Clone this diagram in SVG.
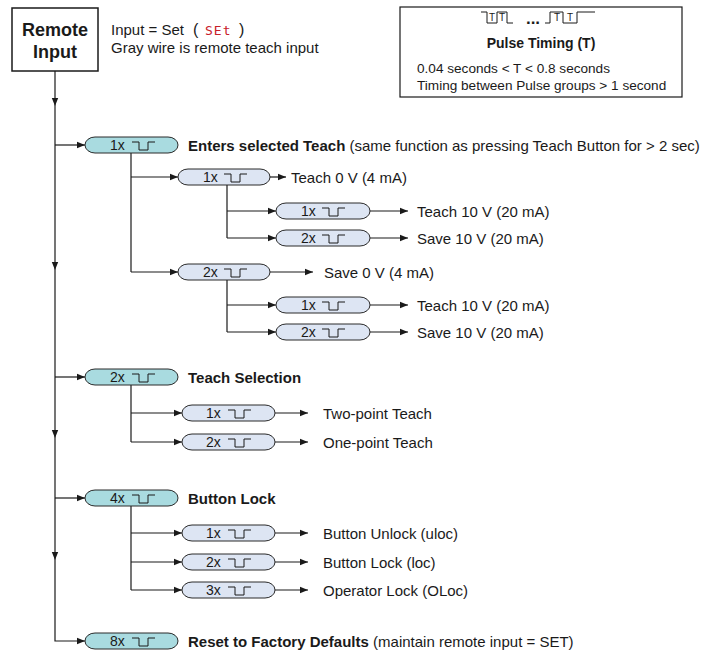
<svg xmlns="http://www.w3.org/2000/svg" width="706" height="655" viewBox="0 0 706 655">
<style>
  .t{font-family:"Liberation Sans",Arial,sans-serif;font-size:15px;fill:#1a1a1a}
  .b{font-weight:bold}
  .pl{font-family:"Liberation Sans",Arial,sans-serif;font-size:14px;fill:#1a1a1a}
  .m{fill:#a9dbe0;stroke:#2a2a2a;stroke-width:1}
  .s{fill:#dde5f3;stroke:#2a2a2a;stroke-width:1}
  .ln{fill:none;stroke:#1a1a1a;stroke-width:1.2}
  .ic{fill:none;stroke:#1a1a1a;stroke-width:1}
  .box{fill:#fff;stroke:#1a1a1a;stroke-width:1.5}
  .tt{font-family:"Liberation Sans",Arial,sans-serif;font-size:10px;fill:#1a1a1a}
</style>
<defs>
  <marker id="ah" viewBox="0 0 8 8" refX="8" refY="4" markerWidth="8" markerHeight="8" markerUnits="userSpaceOnUse" orient="auto">
    <path d="M0,0.8 L8,4 L0,7.2 Z" fill="#1a1a1a"/>
  </marker>
  <path id="pulse" d="M0,-4 h7 v8 h9 v-8 h7" class="ic"/>
</defs>

<g id="remote-input">
  <rect x="12" y="8" width="86" height="63" class="box"/>
  <text x="55" y="36" text-anchor="middle" class="t b" style="font-size:18px">Remote</text>
  <text x="55" y="58" text-anchor="middle" class="t b" style="font-size:18px">Input</text>
</g>

<g id="input-note">
  <text x="111" y="35" class="t">Input = Set</text>
  <text x="193" y="35" class="t" style="font-size:16px">(</text>
  <text x="205" y="35" style="font-family:'DejaVu Sans Mono',monospace;font-size:13px;fill:#c8202a;letter-spacing:1px">SEt</text>
  <text x="239" y="35" class="t" style="font-size:16px">)</text>
  <text x="111" y="53" class="t">Gray wire is remote teach input</text>
</g>

<g id="pulse-timing">
  <rect x="400" y="7" width="282" height="90" class="box" style="stroke-width:1.2"/>
  <path d="M481,12 h6 v11 h10 v-11 h10 v11 h6" class="ic"/>
  <text x="492" y="21" text-anchor="middle" class="tt">T</text>
  <text x="502" y="21" text-anchor="middle" class="tt">T</text>
  <text x="533" y="24" text-anchor="middle" class="t b" style="font-size:17px">...</text>
  <path d="M545,23 h5 v-11 h13 v11 h14 v-11 h18" class="ic"/>
  <text x="557" y="21" text-anchor="middle" class="tt">T</text>
  <text x="570" y="21" text-anchor="middle" class="tt">T</text>
  <text x="541" y="48" text-anchor="middle" class="t b" style="font-size:14px">Pulse Timing (T)</text>
  <text x="417" y="73" class="t" style="font-size:13.6px">0.04 seconds &lt; T &lt; 0.8 seconds</text>
  <text x="417" y="90" class="t" style="font-size:13.6px">Timing between Pulse groups &gt; 1 second</text>
</g>

<g id="connectors">
  <path d="M55,71 V106" class="ln" marker-end="url(#ah)"/>
  <path d="M55,106 V270" class="ln" marker-end="url(#ah)"/>
  <path d="M55,270 V438" class="ln" marker-end="url(#ah)"/>
  <path d="M55,438 V560" class="ln" marker-end="url(#ah)"/>
  <path d="M55,560 V641 H85" class="ln" marker-end="url(#ah)"/>
  <path d="M55,145 H85" class="ln" marker-end="url(#ah)"/>
  <path d="M55,377 H85" class="ln" marker-end="url(#ah)"/>
  <path d="M55,498 H85" class="ln" marker-end="url(#ah)"/>
  <path d="M131,153 V272" class="ln"/>
  <path d="M131,177 H178" class="ln" marker-end="url(#ah)"/>
  <path d="M131,272 H178" class="ln" marker-end="url(#ah)"/>
  <path d="M227,185 V238" class="ln"/>
  <path d="M227,211 H276" class="ln" marker-end="url(#ah)"/>
  <path d="M227,238 H276" class="ln" marker-end="url(#ah)"/>
  <path d="M227,280 V332" class="ln"/>
  <path d="M227,305 H276" class="ln" marker-end="url(#ah)"/>
  <path d="M227,332 H276" class="ln" marker-end="url(#ah)"/>
  <path d="M270,177 H286" class="ln" marker-end="url(#ah)"/>
  <path d="M270,272 H313" class="ln" marker-end="url(#ah)"/>
  <path d="M370,211 H408" class="ln" marker-end="url(#ah)"/>
  <path d="M370,238 H408" class="ln" marker-end="url(#ah)"/>
  <path d="M370,305 H408" class="ln" marker-end="url(#ah)"/>
  <path d="M370,332 H408" class="ln" marker-end="url(#ah)"/>
  <path d="M131,385 V442" class="ln"/>
  <path d="M131,413 H182" class="ln" marker-end="url(#ah)"/>
  <path d="M131,442 H182" class="ln" marker-end="url(#ah)"/>
  <path d="M275,413 H308" class="ln" marker-end="url(#ah)"/>
  <path d="M275,442 H308" class="ln" marker-end="url(#ah)"/>
  <path d="M131,506 V590" class="ln"/>
  <path d="M131,533 H182" class="ln" marker-end="url(#ah)"/>
  <path d="M131,562 H182" class="ln" marker-end="url(#ah)"/>
  <path d="M131,590 H182" class="ln" marker-end="url(#ah)"/>
  <path d="M275,533 H308" class="ln" marker-end="url(#ah)"/>
  <path d="M275,562 H308" class="ln" marker-end="url(#ah)"/>
  <path d="M275,590 H308" class="ln" marker-end="url(#ah)"/>
</g>

<g id="p-1x">
  <rect x="85" y="137" width="93" height="16" rx="10" ry="8" class="m"/>
  <text x="110" y="150" class="pl">1x</text>
  <use href="#pulse" x="132" y="146"/>
  <text x="188" y="151" class="t"><tspan class="b">Enters selected Teach</tspan> (same function as pressing Teach Button for &gt; 2 sec)</text>
</g>
<g id="p-2x">
  <rect x="85" y="369" width="93" height="16" rx="10" ry="8" class="m"/>
  <text x="110" y="382" class="pl">2x</text>
  <use href="#pulse" x="132" y="378"/>
  <text x="188" y="383" class="t b">Teach Selection</text>
</g>
<g id="p-4x">
  <rect x="85" y="490" width="93" height="16" rx="10" ry="8" class="m"/>
  <text x="110" y="503" class="pl">4x</text>
  <use href="#pulse" x="132" y="499"/>
  <text x="188" y="504" class="t b">Button Lock</text>
</g>
<g id="p-8x">
  <rect x="85" y="633" width="93" height="16" rx="10" ry="8" class="m"/>
  <text x="110" y="646" class="pl">8x</text>
  <use href="#pulse" x="132" y="642"/>
  <text x="188" y="647" class="t"><tspan class="b">Reset to Factory Defaults</tspan> (maintain remote input = SET)</text>
</g>

<g id="s1-1x">
  <rect x="178" y="169" width="92" height="16" rx="10" ry="8" class="s"/>
  <text x="203" y="182" class="pl">1x</text>
  <use href="#pulse" x="224" y="178"/>
  <text x="291" y="183" class="t">Teach 0 V (4 mA)</text>
</g>
<g id="s1-1x-1x">
  <rect x="276" y="203" width="94" height="16" rx="10" ry="8" class="s"/>
  <text x="301" y="216" class="pl">1x</text>
  <use href="#pulse" x="322" y="212"/>
  <text x="417" y="217" class="t">Teach 10 V (20 mA)</text>
</g>
<g id="s1-1x-2x">
  <rect x="276" y="230" width="94" height="16" rx="10" ry="8" class="s"/>
  <text x="301" y="243" class="pl">2x</text>
  <use href="#pulse" x="322" y="239"/>
  <text x="417" y="244" class="t">Save 10 V (20 mA)</text>
</g>
<g id="s1-2x">
  <rect x="178" y="264" width="92" height="16" rx="10" ry="8" class="s"/>
  <text x="203" y="277" class="pl">2x</text>
  <use href="#pulse" x="224" y="273"/>
  <text x="324" y="278" class="t">Save 0 V (4 mA)</text>
</g>
<g id="s1-2x-1x">
  <rect x="276" y="297" width="94" height="16" rx="10" ry="8" class="s"/>
  <text x="301" y="310" class="pl">1x</text>
  <use href="#pulse" x="322" y="306"/>
  <text x="417" y="311" class="t">Teach 10 V (20 mA)</text>
</g>
<g id="s1-2x-2x">
  <rect x="276" y="324" width="94" height="16" rx="10" ry="8" class="s"/>
  <text x="301" y="337" class="pl">2x</text>
  <use href="#pulse" x="322" y="333"/>
  <text x="417" y="338" class="t">Save 10 V (20 mA)</text>
</g>

<g id="s2-1x">
  <rect x="182" y="405" width="93" height="16" rx="10" ry="8" class="s"/>
  <text x="206" y="418" class="pl">1x</text>
  <use href="#pulse" x="228" y="414"/>
  <text x="323" y="419" class="t">Two-point Teach</text>
</g>
<g id="s2-2x">
  <rect x="182" y="434" width="93" height="16" rx="10" ry="8" class="s"/>
  <text x="206" y="447" class="pl">2x</text>
  <use href="#pulse" x="228" y="443"/>
  <text x="323" y="448" class="t">One-point Teach</text>
</g>

<g id="s3-1x">
  <rect x="182" y="525" width="93" height="16" rx="10" ry="8" class="s"/>
  <text x="206" y="538" class="pl">1x</text>
  <use href="#pulse" x="228" y="534"/>
  <text x="323" y="539" class="t">Button Unlock (uloc)</text>
</g>
<g id="s3-2x">
  <rect x="182" y="554" width="93" height="16" rx="10" ry="8" class="s"/>
  <text x="206" y="567" class="pl">2x</text>
  <use href="#pulse" x="228" y="563"/>
  <text x="323" y="568" class="t">Button Lock (loc)</text>
</g>
<g id="s3-3x">
  <rect x="182" y="582" width="93" height="16" rx="10" ry="8" class="s"/>
  <text x="206" y="595" class="pl">3x</text>
  <use href="#pulse" x="228" y="591"/>
  <text x="323" y="596" class="t">Operator Lock (OLoc)</text>
</g>
</svg>
